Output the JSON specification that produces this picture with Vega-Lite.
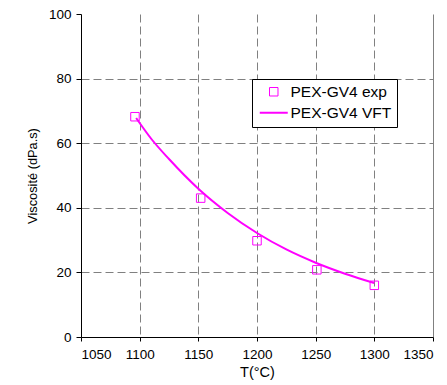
{
  "$schema": "https://vega.github.io/schema/vega-lite/v6.json",
  "width": 352,
  "height": 323,
  "autosize": "none",
  "padding": {"left": 81, "top": 14, "right": 14, "bottom": 48},
  "background": "white",
  "config": {
    "font": "Liberation Sans",
    "view": {"stroke": null},
    "axis": {
      "domainColor": "black",
      "tickColor": "black",
      "labelColor": "black",
      "titleColor": "black",
      "labelFont": "Liberation Sans",
      "titleFont": "Liberation Sans",
      "labelFontSize": 13.5,
      "titleFontWeight": "normal",
      "gridColor": "#808080",
      "gridWidth": 1,
      "tickSize": 5
    },
    "legend": {
      "labelFont": "Liberation Sans",
      "labelFontSize": 15.5,
      "labelColor": "black"
    }
  },
  "datasets": {
    "curve": [
      {"T": 1097, "eta": 67.8, "series": "PEX-GV4 VFT"},
      {"T": 1110, "eta": 61.3, "series": "PEX-GV4 VFT"},
      {"T": 1125, "eta": 55.1, "series": "PEX-GV4 VFT"},
      {"T": 1150, "eta": 45.9, "series": "PEX-GV4 VFT"},
      {"T": 1175, "eta": 38.4, "series": "PEX-GV4 VFT"},
      {"T": 1200, "eta": 32.2, "series": "PEX-GV4 VFT"},
      {"T": 1225, "eta": 27.1, "series": "PEX-GV4 VFT"},
      {"T": 1250, "eta": 23.0, "series": "PEX-GV4 VFT"},
      {"T": 1275, "eta": 19.6, "series": "PEX-GV4 VFT"},
      {"T": 1300, "eta": 16.7, "series": "PEX-GV4 VFT"}
    ],
    "exp": [
      {"T": 1096, "eta": 68.2, "series": "PEX-GV4 exp"},
      {"T": 1152, "eta": 43.0, "series": "PEX-GV4 exp"},
      {"T": 1200, "eta": 29.8, "series": "PEX-GV4 exp"},
      {"T": 1251, "eta": 20.8, "series": "PEX-GV4 exp"},
      {"T": 1300, "eta": 16.0, "series": "PEX-GV4 exp"}
    ]
  },
  "encoding": {
    "x": {
      "field": "T", "type": "quantitative",
      "scale": {"domain": [1050, 1350], "nice": false, "zero": false},
      "axis": {
        "title": "T(°C)",
        "titleFontSize": 14.5,
        "titlePadding": 5,
        "format": "d",
        "values": [1050, 1100, 1150, 1200, 1250, 1300, 1350],
        "labelPadding": 6,
        "tickSize": 4,
        "grid": true,
        "gridOpacity": {"condition": {"test": "datum.value == 1050", "value": 0}, "value": 1},
        "gridDash": {"condition": {"test": "datum.value == 1350", "value": []}, "value": [8, 4]}
      }
    },
    "y": {
      "field": "eta", "type": "quantitative",
      "scale": {"domain": [0, 100], "nice": false},
      "axis": {
        "title": "Viscosité (dPa.s)",
        "titleFontSize": 12.8,
        "titlePadding": 9,
        "values": [0, 20, 40, 60, 80, 100],
        "labelPadding": 5,
        "grid": true,
        "gridOpacity": {"condition": {"test": "datum.value == 0 || datum.value == 100", "value": 0}, "value": 1},
        "gridDash": [8, 4]
      }
    },
    "color": {
      "field": "series", "type": "nominal",
      "scale": {"domain": ["PEX-GV4 exp", "PEX-GV4 VFT"], "range": ["#FF00FF", "#FF00FF"]},
      "legend": {
        "title": null,
        "orient": "none",
        "legendX": 171,
        "legendY": 65,
        "strokeColor": "black",
        "fillColor": "white",
        "padding": 5,
        "rowPadding": 4,
        "symbolOffset": 9,
        "labelOffset": 9,
        "symbolStrokeWidth": 2,
        "encode": {
          "symbols": {
            "update": {
              "size": {"signal": "datum.label === 'PEX-GV4 VFT' ? 784 : 72"},
              "strokeWidth": {"signal": "datum.label === 'PEX-GV4 VFT' ? 2 : 1"}
            }
          }
        }
      }
    }
  },
  "layer": [
    {
      "data": {"name": "curve"},
      "mark": {"type": "line", "interpolate": "monotone", "strokeWidth": 2}
    },
    {
      "data": {"name": "exp"},
      "mark": {"type": "point", "filled": false, "size": 72, "strokeWidth": 1, "opacity": 1},
      "encoding": {
        "shape": {
          "field": "series", "type": "nominal",
          "scale": {"domain": ["PEX-GV4 exp", "PEX-GV4 VFT"], "range": ["square", "stroke"]},
          "legend": {"title": null}
        }
      }
    }
  ]
}
